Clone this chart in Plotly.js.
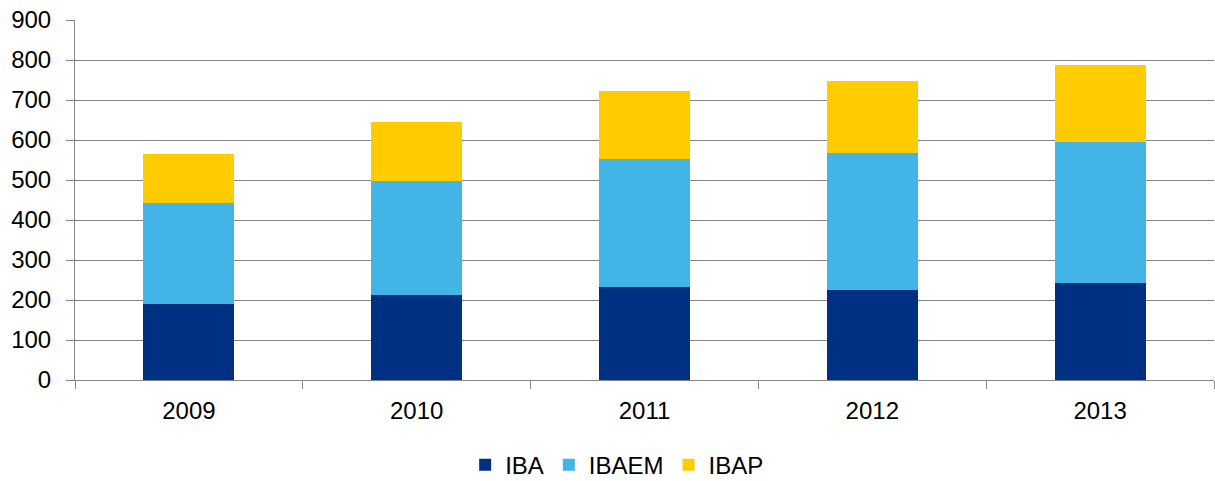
<!DOCTYPE html>
<html>
<head>
<meta charset="utf-8">
<script src="https://cdn.plot.ly/plotly-3.0.1.min.js"></script>
<style>html,body{margin:0;padding:0;background:#fff;}#chart{width:1215px;height:481px;}</style>
</head>
<body>
<div id="chart"></div>
<script>
var years = ["2009", "2010", "2011", "2012", "2013"];
var IBA = [190, 212, 233, 225, 242];
var IBAEM = [253, 285, 320, 342, 354];
var IBAP = [122, 148, 170, 180, 192];
var yTicks = [0, 100, 200, 300, 400, 500, 600, 700, 800, 900];

var traces = [
  {type: "bar", name: "IBA", x: years, y: IBA, marker: {color: "#003082"}},
  {type: "bar", name: "IBAEM", x: years, y: IBAEM, marker: {color: "#42B4E6"}},
  {type: "bar", name: "IBAP", x: years, y: IBAP, marker: {color: "#FFCC00"}}
];

var layout = {
  width: 1215, height: 481,
  margin: {l: 75, r: 1, t: 20, b: 101, autoexpand: false},
  barmode: "stack",
  bargap: 0.6,
  paper_bgcolor: "#fff",
  plot_bgcolor: "#fff",
  font: {family: "Liberation Sans, Arial, sans-serif", size: 24, color: "#000"},
  xaxis: {
    type: "category",
    tickson: "boundaries",
    ticks: "outside", ticklen: 8, tickcolor: "#868686", tickwidth: 1,
    ticklabelstandoff: 9,
    showline: true, linecolor: "#868686", linewidth: 1,
    showgrid: false,
    tickfont: {size: 24}
  },
  yaxis: {
    range: [0, 900],
    tickvals: yTicks,
    ticks: "outside", ticklen: 8, tickcolor: "#868686",
    ticklabelstandoff: 10,
    showline: true, linecolor: "#868686", linewidth: 1,
    showgrid: true, gridcolor: "#868686", gridwidth: 1,
    zeroline: false,
    tickfont: {size: 24},
    fixedrange: true
  },
  legend: {
    orientation: "h", x: 0.476, xanchor: "center",
    yref: "container", y: 0.033, yanchor: "middle",
    font: {size: 24}, traceorder: "normal", itemwidth: 30
  },
  showlegend: true
};

Plotly.newPlot("chart", traces, layout, {displayModeBar: false, staticPlot: true});
</script>
</body>
</html>
